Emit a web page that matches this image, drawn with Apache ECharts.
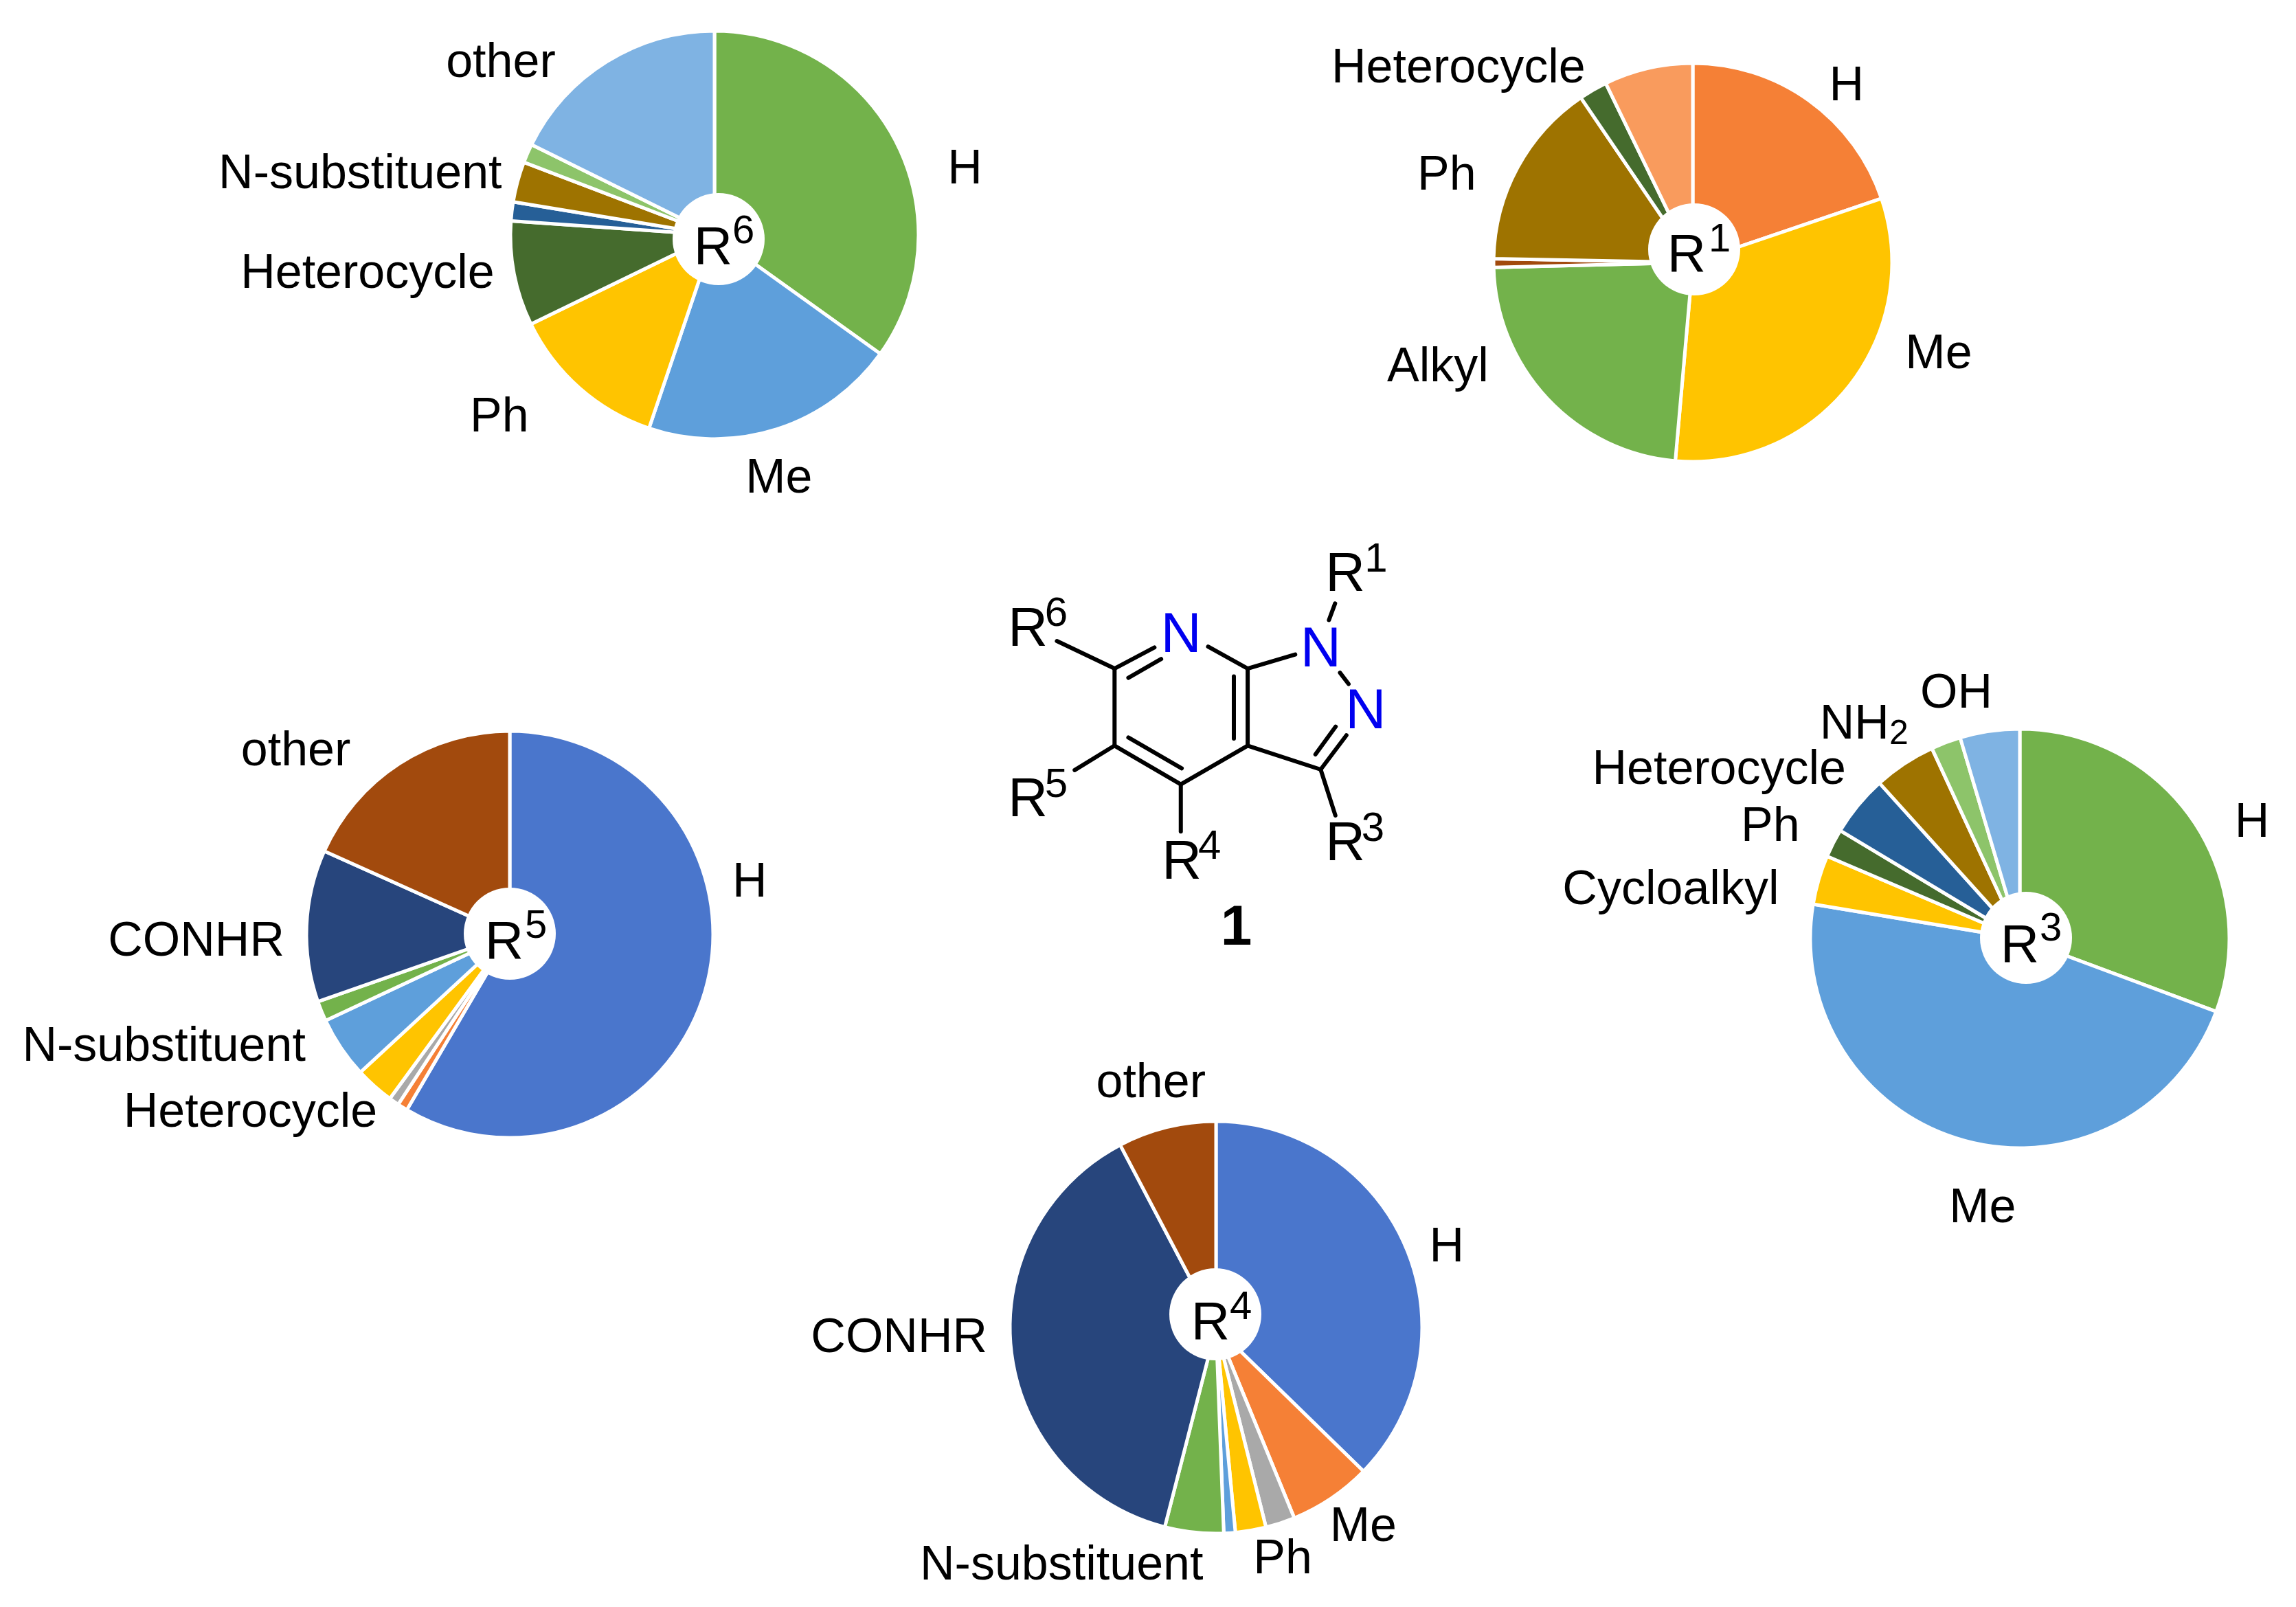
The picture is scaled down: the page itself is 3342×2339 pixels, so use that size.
<!DOCTYPE html>
<html><head><meta charset="utf-8">
<style>html,body{margin:0;padding:0;background:#fff}#c{width:3342px;height:2339px}</style>
<script src="https://cdn.jsdelivr.net/npm/echarts@6/dist/echarts.min.js"></script>
</head><body><div id="c"></div>
<script>
// ---- data (share of each substituent, %) ----
const r6Names  = ['H','Me','Ph','Heterocycle','','N-substituent','','other'];
const r6Values = [34.9,20.3,12.6,8.3,1.5,3.2,1.5,17.7];
const r1Names  = ['H','Me','Alkyl','','Ph','Heterocycle',''];
const r1Values = [19.8,31.6,23.2,0.7,15.2,2.3,7.2];
const r5Names  = ['H','','','','Heterocycle','N-substituent','CONHR','other'];
const r5Values = [58.5,0.8,0.8,3.1,4.9,1.6,12.1,18.3];
const r4Names  = ['H','Me','','Ph','','N-substituent','CONHR','other'];
const r4Values = [37.3,6.5,2.3,2.4,0.9,4.6,38.3,7.7];
const r3Names  = ['H','Me','Cycloalkyl','Ph','Heterocycle','NH2','OH',''];
const r3Values = [30.7,47.0,3.8,2.2,4.7,4.8,2.3,4.6];

// ---- styles ----
const FONT = '"Liberation Sans", Arial, sans-serif';
const C = {blue:'#4A76CC',orange:'#F58036',grey:'#A9A9A9',yellow:'#FFC400',sky:'#5E9FDB',green:'#73B24B',
  navy:'#27457C',rust:'#A24A0D',gold:'#9E7300',steel:'#265F97',dgreen:'#456B2D',lorange:'#F99B5D',lgreen:'#8DC46A',lsky:'#7FB3E3'};
const r6Colors=[C.green,C.sky,C.yellow,C.dgreen,C.steel,C.gold,C.lgreen,C.lsky];
const r1Colors=[C.orange,C.yellow,C.green,C.rust,C.gold,C.dgreen,C.lorange];
const r5Colors=[C.blue,C.orange,C.grey,C.yellow,C.sky,C.green,C.navy,C.rust];
const r4Colors=[C.blue,C.orange,C.grey,C.yellow,C.sky,C.green,C.navy,C.rust];
const r3Colors=[C.green,C.sky,C.yellow,C.dgreen,C.steel,C.gold,C.lgreen,C.lsky];

// ---- layout (pixels) ----
const S = 3342/1568;
const LABEL_DY = 3;
const pies = [
 {names:r6Names,values:r6Values,colors:r6Colors,center:[1040,342],r:297,
  labels:{'H':[659,115],'Me':[532,326],'Ph':[341,284],'Heterocycle':[251,186],'N-substituent':[246,118],'other':[342,42]},
  hole:[1046,348],tag:'6',rPos:[1016,391],dPos:[1069,358]},
 {names:r1Names,values:r1Values,colors:r1Colors,center:[2464,382],r:290,
  labels:{'H':[1261,58],'Me':[1324,241],'Alkyl':[982,250],'Ph':[988,119],'Heterocycle':[996,46]},
  hole:[2466,363],tag:'1',rPos:[2433,402],dPos:[2490,370]},
 {names:r5Names,values:r5Values,colors:r5Colors,center:[742,1360],r:296,
  labels:{'H':[512,602],'other':[202,512],'CONHR':[134,642],'N-substituent':[112,714],'Heterocycle':[171,759]},
  hole:[742,1359],tag:'5',rPos:[712,1402],dPos:[767,1369]},
 {names:r4Names,values:r4Values,colors:r4Colors,center:[1770,1932],r:300,
  labels:{'H':[988,851],'Me':[931,1042],'Ph':[876,1064],'N-substituent':[725,1068],'CONHR':[614,913],'other':[786,739]},
  hole:[1769,1913],tag:'4',rPos:[1740,1956],dPos:[1793,1924]},
 {names:r3Names,values:r3Values,colors:r3Colors,center:[2940,1366],r:305,
  labels:{'H':[1538,561],'Me':[1354,824],'Cycloalkyl':[1141,607],'Ph':[1209,564],'Heterocycle':[1174,525],'NH2':[1273,494],'OH':[1336,473]},
  hole:[2949,1365],tag:'3',rPos:[2918,1407],dPos:[2972,1373]}
];
const LABEL_SIZE = 70;

const series = pies.map(p => ({
  type:'pie', silent:true, center:p.center, radius:[0,p.r], startAngle:90, clockwise:true,
  avoidLabelOverlap:false, animation:false,
  labelLine:{show:false},
  itemStyle:{borderColor:'#fff',borderWidth:5},
  label:{show:true,position:'outside',color:'#000',fontFamily:FONT,fontSize:LABEL_SIZE,
    formatter:o=> o.name==='NH2' ? '{a|NH}{b|2}' : o.name,
    rich:{a:{fontFamily:FONT,fontSize:LABEL_SIZE,color:'#000'},
          b:{fontFamily:FONT,fontSize:50,color:'#000',verticalAlign:'bottom',padding:[26,0,0,0]}}},
  labelLayout:params=>{
    const pos=p.labels[p.names[params.dataIndex]];
    return pos?{x:pos[0]*S,y:pos[1]*S+LABEL_DY,align:'center',verticalAlign:'middle'}:{};
  },
  data:p.names.map((n,i)=>({name:n,value:p.values[i],itemStyle:{color:p.colors[i]},label:{show:n!==''}}))
}));

// ---- annotation helpers ----
const g=[];
function txt(t,left,capMid,size,opt){
  g.push({type:'text',z:120,x:left,y:capMid,style:Object.assign({text:t,fontFamily:FONT,fontSize:size,fill:'#000',
    align:'left',verticalAlign:'middle'},opt||{})});
}
function rTag(d,rLeft,rBase,dLeft,dBase,rSize,dSize){
  txt('R',rLeft-0.08*rSize,rBase-0.36*rSize,rSize);
  txt(d,dLeft-0.05*dSize,dBase-0.35*dSize,dSize);
}
pies.forEach(p=>{
  g.push({type:'circle',z:110,shape:{cx:p.hole[0],cy:p.hole[1],r:67},style:{fill:'#fff'}});
  rTag(p.tag,p.rPos[0],p.rPos[1],p.dPos[0],p.dPos[1],78,58);
});

// ---- scaffold 1 (zoomed-crop coordinates mapped to page) ----
const zx=v=>1400+v/2.24, zy=v=>760+v/2.45;
const bonds=[[498,522,628,447],[543,555,650,488],[498,522,310,424],[498,522,498,797],[498,797,368,884],
 [498,797,714,935],[543,768,717,878],[714,935,714,1103],[714,935,932,797],[932,797,932,522],[887,772,887,550],
 [932,522,803,444],[932,522,1087,472],[1197,349,1217,290],[1233,537,1261,577],[932,797,1170,882],
 [1170,882,1254,760],[1153,828,1219,729],[1170,882,1218,1046]];
bonds.forEach(b=>g.push({type:'line',z:105,shape:{x1:zx(b[0]),y1:zy(b[1]),x2:zx(b[2]),y2:zy(b[3])},
  style:{stroke:'#000',lineWidth:6,lineCap:'round'}}));
[[1,1200,262,1320,188],[6,165,458,277,382],[5,165,1064,277,990],[4,667,1288,777,1212],[3,1200,1222,1310,1148]]
 .forEach(a=>rTag(String(a[0]),zx(a[1]),zy(a[2]),zx(a[3]),zy(a[4]),80,60));
[[715,408],[1170,458],[1317,680]].forEach(n=>g.push({type:'text',z:120,x:zx(n[0]),y:zy(n[1]),
  style:{text:'N',fontFamily:FONT,fontSize:82,fill:'#0000F0',align:'center',verticalAlign:'middle'}}));
g.push({type:'text',z:120,x:zx(895),y:zy(1452),style:{text:'1',fontFamily:FONT,fontSize:82,fontWeight:'bold',fill:'#000',align:'center',verticalAlign:'middle'}});

const chart=echarts.init(document.getElementById('c'),null,{renderer:'canvas'});
chart.setOption({backgroundColor:'#fff',animation:false,series:series,graphic:{elements:g}});
</script></body></html>
